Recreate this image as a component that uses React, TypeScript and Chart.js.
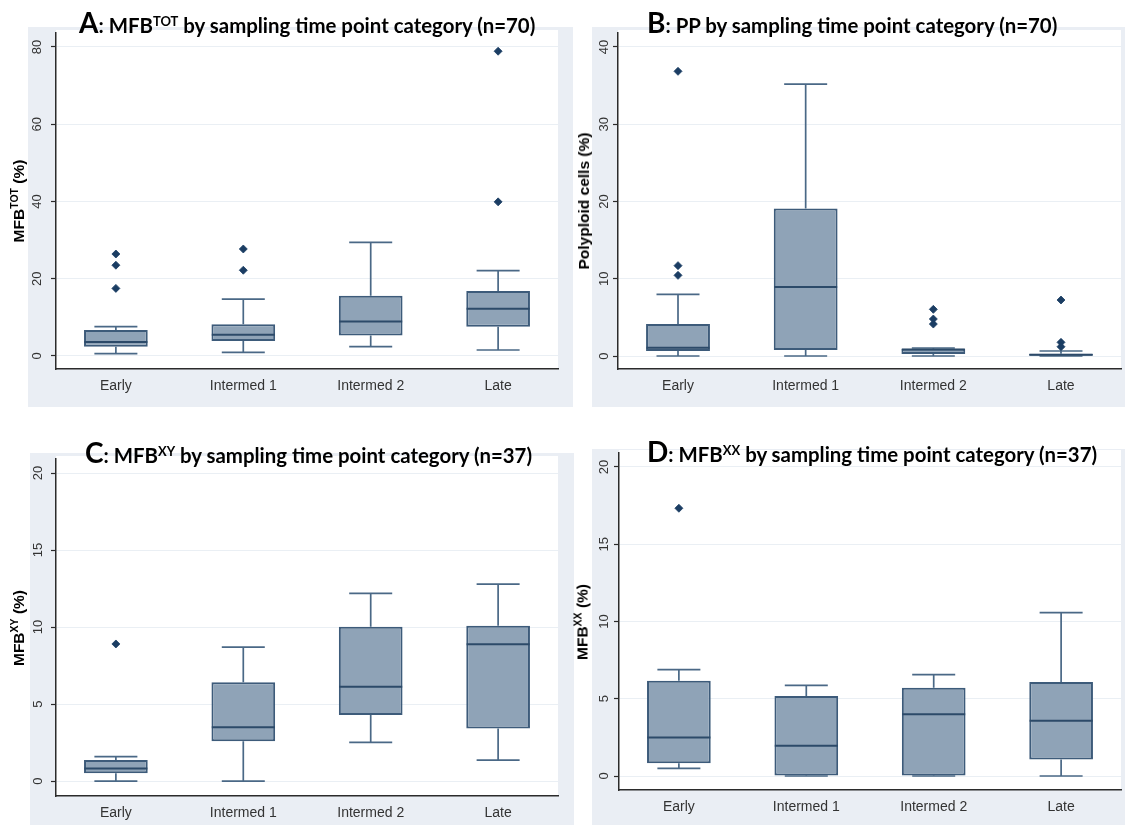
import React, { useEffect, useRef } from 'react';
import { Chart, registerables } from 'chart.js';

Chart.register(...registerables);

const CATEGORIES = ['Early', 'Intermed 1', 'Intermed 2', 'Late'];

// Panel A: MFB TOT (%)
const A_TICKS = [0, 20, 40, 60, 80];
const A_LOW = [0.6, 0.95, 2.4, 1.55];
const A_Q1 = [2.4, 3.9, 5.3, 7.6];
const A_MED = [3.6, 5.5, 8.9, 12.2];
const A_Q3 = [6.7, 8.2, 15.6, 16.8];
const A_HIGH = [7.6, 14.7, 29.4, 22.1];
const A_OUTLIERS = [[26.4, 23.5, 17.5], [27.7, 22.2], [], [78.9, 39.9]];

// Panel B: Polyploid cells (%)
const B_TICKS = [0, 10, 20, 30, 40];
const B_LOW = [0, 0, 0, 0];
const B_Q1 = [0.65, 0.78, 0.26, 0.05];
const B_MED = [1.08, 8.93, 0.85, 0.15];
const B_Q3 = [4.14, 19.1, 0.95, 0.3];
const B_HIGH = [7.98, 35.2, 1.04, 0.65];
const B_OUTLIERS = [[36.85, 11.7, 10.44], [], [6.04, 4.79, 4.14], [7.25, 1.77, 1.2]];

// Panel C: MFB XY (%)
const C_TICKS = [0, 5, 10, 15, 20];
const C_LOW = [0, 0, 2.51, 1.36];
const C_Q1 = [0.5, 2.58, 4.29, 3.42];
const C_MED = [0.82, 3.5, 6.12, 8.88];
const C_Q3 = [1.36, 6.41, 10.02, 10.09];
const C_HIGH = [1.58, 8.7, 12.19, 12.79];
const C_OUTLIERS = [[8.9], [], [], []];

// Panel D: MFB XX (%)
const D_TICKS = [0, 5, 10, 15, 20];
const D_LOW = [0.5, 0, 0, 0];
const D_Q1 = [0.82, 0.03, 0.03, 1.06];
const D_MED = [2.5, 1.96, 3.99, 3.58];
const D_Q3 = [6.17, 5.18, 5.72, 6.08];
const D_HIGH = [6.88, 5.87, 6.56, 10.57];
const D_OUTLIERS = [[17.33], [], [], []];

const GREY = '#eaeef4';
const BOX_FILL = '#8fa3b7';
const BOX_LINE = '#3d5b7a';
const WHISKER = '#4a6886';
const MEDIAN = '#2c4a69';
const OUTLIER = '#1b3d63';
const AXIS = '#2b2b2b';
const GRID = '#eaeff4';
const TEXT = '#333333';
const SANS = '"Liberation Sans", Arial, sans-serif';
const TITLE_FONT = 'Lato, "Open Sans", sans-serif';

type Panel = {
  letter: string;
  titleMain: string;
  titleSup: string;
  titleRest: string;
  yMain: string;
  ySup: string;
  yRest: string;
  canvas: { left: number; top: number; width: number; height: number };
  area: { left: number; top: number; right: number; bottom: number };
  titleLeft: number;
  titleTop: number;
  yTitleX: number;
  yMin: number;
  yMax: number;
  labelPad: number;
  ticks: number[];
  low: number[];
  q1: number[];
  med: number[];
  q3: number[];
  high: number[];
  outliers: number[][];
};

const PANELS: Panel[] = [
  {
    letter: 'A', titleMain: ': MFB', titleSup: 'TOT', titleRest: ' by sampling time point category (n=70)',
    yMain: 'MFB', ySup: 'TOT', yRest: ' (%)',
    canvas: { left: 28, top: 27, width: 545, height: 380 },
    area: { left: 56, top: 33, right: 558, bottom: 369 },
    titleLeft: 79, titleTop: 7, yTitleX: 19,
    yMin: -3.37, yMax: 83.62, labelPad: 6,
    ticks: A_TICKS, low: A_LOW, q1: A_Q1, med: A_MED, q3: A_Q3, high: A_HIGH, outliers: A_OUTLIERS,
  },
  {
    letter: 'B', titleMain: ': PP by sampling time point category (n=70)', titleSup: '', titleRest: '',
    yMain: 'Polyploid cells (%)', ySup: '', yRest: '',
    canvas: { left: 592, top: 27, width: 533, height: 380 },
    area: { left: 618, top: 33, right: 1121, bottom: 369 },
    titleLeft: 647, titleTop: 7, yTitleX: 584,
    yMin: -1.68, yMax: 41.81, labelPad: 1,
    ticks: B_TICKS, low: B_LOW, q1: B_Q1, med: B_MED, q3: B_Q3, high: B_HIGH, outliers: B_OUTLIERS,
  },
  {
    letter: 'C', titleMain: ': MFB', titleSup: 'XY', titleRest: ' by sampling time point category (n=37)',
    yMain: 'MFB', ySup: 'XY', yRest: ' (%)',
    canvas: { left: 30, top: 453, width: 544, height: 372 },
    area: { left: 56, top: 459, right: 558, bottom: 796 },
    titleLeft: 85, titleTop: 437, yTitleX: 19,
    yMin: -0.97, yMax: 20.91, labelPad: 5,
    ticks: C_TICKS, low: C_LOW, q1: C_Q1, med: C_MED, q3: C_Q3, high: C_HIGH, outliers: C_OUTLIERS,
  },
  {
    letter: 'D', titleMain: ': MFB', titleSup: 'XX', titleRest: ' by sampling time point category (n=37)',
    yMain: 'MFB', ySup: 'XX', yRest: ' (%)',
    canvas: { left: 592, top: 449, width: 533, height: 376 },
    area: { left: 619, top: 453, right: 1121, bottom: 790 },
    titleLeft: 647, titleTop: 436, yTitleX: 583,
    yMin: -0.906, yMax: 20.906, labelPad: 2,
    ticks: D_TICKS, low: D_LOW, q1: D_Q1, med: D_MED, q3: D_Q3, high: D_HIGH, outliers: D_OUTLIERS,
  },
];

const panelBg = {
  id: 'panelBg',
  beforeDraw(chart: any) {
    const { ctx, chartArea: a, width, height } = chart;
    ctx.save();
    ctx.fillStyle = GREY;
    ctx.fillRect(0, 0, width, height);
    ctx.fillStyle = '#ffffff';
    ctx.fillRect(a.left, a.top - 3, a.right - a.left, a.bottom - a.top + 3);
    ctx.restore();
  },
};

function BoxPanel({ p }: { p: Panel }) {
  const ref = useRef<HTMLCanvasElement>(null);
  const c = p.canvas;
  const a = p.area;
  const yAxisWidth = a.left - c.left;
  const xAxisHeight = c.top + c.height - a.bottom;
  const padTop = a.top - c.top;
  const padRight = c.left + c.width - a.right;

  useEffect(() => {
    const canvas = ref.current;
    if (!canvas) return;
    const xs = CATEGORIES.map((_, i) => i + 1);
    const boxes = xs.map((x, i) => ({ x, y: [p.q1[i], p.q3[i]] }));
    const whiskers = xs.flatMap((x, i) => [
      { x, y: p.low[i] }, { x, y: p.q1[i] }, { x, y: null },
      { x, y: p.q3[i] }, { x, y: p.high[i] }, { x, y: null },
    ]);
    const caps = xs.flatMap((x, i) => [{ x, y: p.low[i] }, { x, y: p.high[i] }]);
    const medians = xs.map((x, i) => ({ x, y: p.med[i] }));
    const outliers = xs.flatMap((x, i) => p.outliers[i].map((y) => ({ x, y })));

    const chart = new Chart(canvas, {
      type: 'bar',
      data: {
        datasets: [
          {
            type: 'scatter', label: 'Outliers', data: outliers as any,
            pointStyle: 'rectRot', pointRadius: 4, pointBackgroundColor: OUTLIER,
            pointBorderColor: OUTLIER, pointBorderWidth: 0.8,
          } as any,
          {
            type: 'scatter', label: 'Median', data: medians as any,
            pointStyle: 'line', pointRadius: 31.5, pointBorderColor: MEDIAN, pointBorderWidth: 2,
          } as any,
          {
            type: 'scatter', label: 'Whisker caps', data: caps as any,
            pointStyle: 'line', pointRadius: 21.5, pointBorderColor: WHISKER, pointBorderWidth: 1.7,
          } as any,
          {
            type: 'bar', label: 'IQR', data: boxes as any,
            backgroundColor: BOX_FILL, borderColor: BOX_LINE, borderWidth: 2,
            borderSkipped: false, barPercentage: 0.5, categoryPercentage: 1,
          } as any,
          {
            type: 'line', label: 'Whiskers', data: whiskers as any,
            borderColor: WHISKER, borderWidth: 1.7, pointRadius: 0, spanGaps: false, fill: false,
          } as any,
        ],
      },
      options: {
        responsive: false,
        animation: false,
        devicePixelRatio: 1,
        events: [],
        layout: { autoPadding: false, padding: { left: 0, top: padTop, right: padRight, bottom: 0 } },
        plugins: { legend: { display: false }, tooltip: { enabled: false }, title: { display: false } },
        scales: {
          x: {
            type: 'linear',
            min: 0.53,
            max: 4.47,
            offset: false,
            afterBuildTicks: (s: any) => { s.ticks = xs.map((v) => ({ value: v })); },
            afterFit: (s: any) => {
              s.height = xAxisHeight; s.paddingLeft = 0; s.paddingRight = 0; s.paddingTop = 0; s.paddingBottom = 0;
            },
            ticks: {
              callback: (_v: any, i: number) => CATEGORIES[i],
              autoSkip: false, maxRotation: 0, minRotation: 0, padding: 9,
              color: TEXT, font: { family: SANS, size: 14 },
            },
            grid: { display: true, drawOnChartArea: false, drawTicks: false, offset: false },
            border: { display: true, color: AXIS, width: 1.5 },
          },
          y: {
            type: 'linear',
            min: p.yMin,
            max: p.yMax,
            afterBuildTicks: (s: any) => { s.ticks = p.ticks.map((v) => ({ value: v })); },
            afterFit: (s: any) => {
              s.width = yAxisWidth; s.paddingLeft = 0; s.paddingRight = 0; s.paddingTop = 0; s.paddingBottom = 0;
            },
            ticks: {
              minRotation: 90, maxRotation: 90, crossAlign: 'center', padding: p.labelPad,
              color: TEXT, font: { family: SANS, size: 13 },
            },
            grid: { color: GRID, lineWidth: 1, tickLength: 5, tickColor: AXIS, tickWidth: 1.2 },
            border: { display: true, color: AXIS, width: 1.5 },
          },
        },
      } as any,
      plugins: [panelBg],
    });
    return () => chart.destroy();
  }, []);

  const cy = (a.top + a.bottom) / 2;
  return (
    <>
      <canvas
        ref={ref}
        width={c.width}
        height={c.height}
        style={{ position: 'absolute', left: c.left, top: c.top, width: c.width, height: c.height }}
      />
      <div
        style={{
          position: 'absolute', left: p.titleLeft, top: p.titleTop, whiteSpace: 'nowrap',
          fontFamily: TITLE_FONT, fontWeight: 700, fontSize: 20.4, lineHeight: '30px', color: '#000',
        }}
      >
        <span style={{ fontSize: 28 }}>{p.letter}</span>
        {p.titleMain}
        {p.titleSup ? (
          <span style={{ fontSize: 13, position: 'relative', top: -7 }}>{p.titleSup}</span>
        ) : null}
        {p.titleRest}
      </div>
      <div
        style={{
          position: 'absolute', left: p.yTitleX, top: cy, whiteSpace: 'nowrap',
          transform: 'translate(-50%, -50%) rotate(-90deg)',
          fontFamily: SANS, fontWeight: 700, fontSize: 15.5, lineHeight: '18px', color: '#000',
        }}
      >
        {p.yMain}
        {p.ySup ? <span style={{ fontSize: 10.5, position: 'relative', top: -6 }}>{p.ySup}</span> : null}
        {p.yRest}
      </div>
    </>
  );
}

export default function App() {
  return (
    <div style={{ position: 'absolute', left: 0, top: 0, width: 1125, height: 825, background: '#ffffff', overflow: 'hidden' }}>
      {PANELS.map((p) => (
        <BoxPanel key={p.letter} p={p} />
      ))}
    </div>
  );
}
